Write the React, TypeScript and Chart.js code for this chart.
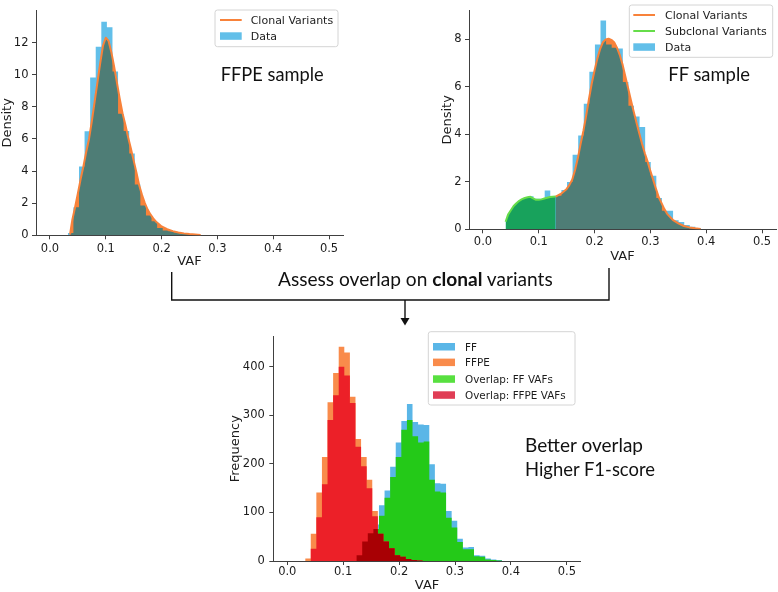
import React, { useEffect, useRef } from 'react';
import { Chart, registerables } from 'chart.js';

Chart.register(...registerables);

// ---------- shared axis data ----------
const X_TICKS = [0, 0.1, 0.2, 0.3, 0.4, 0.5];
const FFPE_Y_TICKS = [0, 2, 4, 6, 8, 10, 12];
const FF_Y_TICKS = [0, 2, 4, 6, 8];
const FREQ_Y_TICKS = [0, 100, 200, 300, 400];
const BIN_WIDTH = 0.01;

// ---------- FFPE sample (density) ----------
const FFPE_BIN_START = 0.032;
const FFPE_DENSITY = [0.15, 1.74, 4.28, 6.47, 9.82, 11.73, 13.3, 12.95, 10.2, 7.57, 6.5, 5.09, 3.17, 1.85, 1.24, 0.87, 0.45, 0.3, 0.25, 0.18, 0.1];
const FFPE_FIT_X = [0.036, 0.038, 0.04, 0.045, 0.05, 0.055, 0.06, 0.065, 0.07, 0.075, 0.08, 0.085, 0.09, 0.095, 0.1, 0.105, 0.11, 0.115, 0.12, 0.125, 0.13, 0.135, 0.14, 0.145, 0.15, 0.155, 0.16, 0.165, 0.17, 0.175, 0.18, 0.185, 0.19, 0.195, 0.2, 0.21, 0.22, 0.23, 0.24, 0.25, 0.26, 0.27];
const FFPE_FIT_Y = [0.05, 0.5, 0.95, 1.75, 2.6, 3.5, 4.3, 5.2, 6.0, 7.1, 8.3, 9.5, 10.7, 11.8, 12.3, 12.1, 11.4, 10.5, 9.5, 8.5, 7.6, 6.9, 6.1, 5.4, 4.65, 3.9, 3.1, 2.5, 2.0, 1.6, 1.3, 1.05, 0.85, 0.7, 0.55, 0.38, 0.26, 0.18, 0.12, 0.08, 0.05, 0.02];

// ---------- FF sample (density) ----------
const FF_BIN_START = 0.0406;
const FF_DENSITY = [0.34, 0.89, 1.12, 1.29, 1.39, 1.29, 1.29, 1.63, 1.39, 1.41, 1.66, 1.99, 3.14, 3.95, 5.29, 6.64, 7.78, 8.79, 7.78, 7.65, 7.62, 6.2, 5.2, 4.75, 4.31, 2.83, 2.26, 1.32, 0.78, 0.78, 0.38, 0.31, 0.18, 0.11, 0.05];
const FF_CLONAL_FIRST_BIN = 9;
const FF_SUB_X = [0.0406, 0.045, 0.05, 0.055, 0.06, 0.065, 0.07, 0.075, 0.08, 0.085, 0.09, 0.095, 0.1, 0.105, 0.11, 0.115, 0.12, 0.125, 0.1303];
const FF_SUB_Y = [0.32, 0.62, 0.8, 0.98, 1.1, 1.2, 1.27, 1.32, 1.35, 1.37, 1.3, 1.24, 1.24, 1.26, 1.3, 1.33, 1.36, 1.37, 1.38];
const FF_CLONAL_X = [0.1303, 0.14, 0.15, 0.155, 0.16, 0.165, 0.17, 0.175, 0.18, 0.185, 0.19, 0.195, 0.2, 0.205, 0.21, 0.215, 0.22, 0.225, 0.23, 0.235, 0.24, 0.245, 0.25, 0.255, 0.26, 0.265, 0.27, 0.275, 0.28, 0.285, 0.29, 0.295, 0.3, 0.305, 0.31, 0.315, 0.32, 0.325, 0.33, 0.34, 0.35, 0.36, 0.37, 0.38, 0.39];
const FF_CLONAL_Y = [1.38, 1.5, 1.7, 1.87, 2.1, 2.5, 3.0, 3.6, 4.15, 4.8, 5.5, 6.15, 6.7, 7.2, 7.6, 7.88, 8.0, 8.03, 7.98, 7.88, 7.65, 7.35, 6.95, 6.45, 5.95, 5.45, 4.96, 4.5, 4.05, 3.6, 3.2, 2.85, 2.45, 2.08, 1.7, 1.35, 1.1, 0.85, 0.65, 0.4, 0.25, 0.14, 0.08, 0.04, 0.01];

// ---------- Overlap (frequency) ----------
const FF_COUNT_START = 0.044;
const FF_COUNTS = [12, 33, 41, 47, 51, 47, 47, 60, 51, 52, 61, 75, 115, 145, 194, 244, 288, 323, 286, 281, 280, 199, 160, 159, 103, 83, 46, 28, 29, 12, 11, 5, 3, 2];
const FFPE_COUNT_START = 0.032;
const FFPE_COUNTS = [5, 56, 141, 214, 327, 387, 441, 429, 338, 251, 214, 167, 103, 61, 41, 29, 12, 10, 8, 6, 3, 1];
const OVERLAP_FF_START = 0.124;
const OVERLAP_FF_COUNTS = [12, 40, 57, 66, 93, 130, 173, 214, 270, 290, 257, 244, 246, 167, 143, 141, 89, 69, 39, 24, 24, 10, 9, 3, 2, 1];
const OVERLAP_FFPE_START = 0.032;
const OVERLAP_FFPE_COUNTS = [0, 25, 90, 158, 290, 341, 400, 382, 325, 235, 195, 150, 92, 56, 40, 26, 12, 9, 4, 2, 1, 0];

// ---------- styling ----------
const FONT = "'DejaVu Sans', 'Liberation Sans', sans-serif";
const ANNOT_FONT = "Lato, 'Open Sans', sans-serif";
const INK = '#1c1c1c';
const AXIS = '#404040';
const DATA_BLUE = '#62bfe9';
const FIT_DARK = '#4e7d76';
const FIT_ORANGE = '#f8823a';
const SUB_FILL = '#18a25c';
const SUB_LINE = '#66dd4a';
const HIST_BLUE = '#5ab6e7';
const HIST_ORANGE = '#f98b4b';
const HIST_GREEN = '#24c918';
const HIST_RED = '#ec2028';
const HIST_DARK_RED = '#a80004';

type Pt = { x: number; y: number };

function steps(start: number, values: number[]): Pt[] {
  const pts = values.map((v, i) => ({ x: start + i * BIN_WIDTH, y: v }));
  pts.push({ x: start + values.length * BIN_WIDTH, y: values[values.length - 1] });
  return pts;
}
function curve(xs: number[], ys: number[]): Pt[] {
  return xs.map((x, i) => ({ x, y: ys[i] }));
}

interface AxisSpec {
  yTicks: number[];
  yMax: number;
  yTitle: string;
  yWidth: number;
  xHeight: number;
  xTickPad: number;
  xTitlePad: number;
  xTitleLH: number;
  yTickPad: number;
}

function makeScales(s: AxisSpec): any {
  const tickFont = { family: FONT, size: 11.5 };
  const grid = { display: true, drawOnChartArea: false, drawTicks: true, tickLength: 4, color: AXIS, lineWidth: 1 };
  const border = { display: true, color: AXIS, width: 1 };
  return {
    x: {
      type: 'linear', min: -0.025, max: 0.525,
      afterBuildTicks: (a: any) => { a.ticks = X_TICKS.map((v) => ({ value: v })); },
      afterFit: (a: any) => { a.height = s.xHeight; },
      ticks: { font: tickFont, color: INK, padding: s.xTickPad, maxRotation: 0, autoSkip: false, callback: (v: any) => Number(v).toFixed(1) },
      grid, border,
      title: { display: true, text: 'VAF', color: INK, font: { family: FONT, size: 13, lineHeight: s.xTitleLH }, padding: { top: 0, bottom: s.xTitlePad } },
    },
    y: {
      type: 'linear', min: 0, max: s.yMax,
      afterBuildTicks: (a: any) => { a.ticks = s.yTicks.map((v) => ({ value: v })); },
      afterFit: (a: any) => { a.width = s.yWidth; },
      ticks: { font: tickFont, color: INK, padding: s.yTickPad, autoSkip: false, callback: (v: any) => String(v) },
      grid, border,
      title: { display: true, text: s.yTitle, color: INK, font: { family: FONT, size: 13, lineHeight: 1.2 }, padding: 0 },
    },
  };
}

function baseOptions(scales: any, padding: any): any {
  return {
    responsive: false,
    animation: false,
    events: [],
    layout: { padding },
    plugins: { legend: { display: false }, tooltip: { enabled: false } },
    scales,
    elements: { point: { radius: 0 }, line: { tension: 0 } },
  };
}

const areaSet = (data: Pt[], color: string, stepped = false): any => ({
  data, backgroundColor: color, borderColor: 'rgba(0,0,0,0)', borderWidth: 0, fill: 'origin', stepped, pointRadius: 0,
});
const lineSet = (data: Pt[], color: string, width = 2): any => ({
  data, borderColor: color, backgroundColor: color, borderWidth: width, fill: false, pointRadius: 0, borderJoinStyle: 'round',
});
const sliverSet = (data: Pt[], target: number): any => ({
  data, stepped: true, borderColor: 'rgba(0,0,0,0)', borderWidth: 0, pointRadius: 0,
  backgroundColor: FIT_ORANGE, fill: { target, above: 'rgba(0,0,0,0)', below: FIT_ORANGE },
});

function ffpeConfig(): any {
  const fit = curve(FFPE_FIT_X, FFPE_FIT_Y);
  return {
    type: 'line',
    data: {
      datasets: [
        lineSet(fit, FIT_ORANGE, 2),
        sliverSet(steps(FFPE_BIN_START, FFPE_DENSITY), 2),
        areaSet(fit, FIT_DARK),
        areaSet(steps(FFPE_BIN_START, FFPE_DENSITY), DATA_BLUE, true),
      ],
    },
    options: baseOptions(
      makeScales({ yTicks: FFPE_Y_TICKS, yMax: 14.0, yTitle: 'Density', yWidth: 36, xHeight: 39.7, xTickPad: 2.5, xTitlePad: 6, xTitleLH: 1.2, yTickPad: 3.5 }),
      { left: 0, top: 5, right: 7, bottom: 0 },
    ),
  };
}

function ffConfig(): any {
  const clonal = curve(FF_CLONAL_X, FF_CLONAL_Y);
  const sub = curve(FF_SUB_X, FF_SUB_Y);
  const clonalStart = FF_BIN_START + FF_CLONAL_FIRST_BIN * BIN_WIDTH;
  return {
    type: 'line',
    data: {
      datasets: [
        lineSet(clonal, FIT_ORANGE, 2),
        lineSet(sub, SUB_LINE, 2),
        sliverSet(steps(clonalStart, FF_DENSITY.slice(FF_CLONAL_FIRST_BIN)), 3),
        areaSet(clonal, FIT_DARK),
        areaSet(sub, SUB_FILL),
        areaSet(steps(FF_BIN_START, FF_DENSITY), DATA_BLUE, true),
      ],
    },
    options: baseOptions(
      makeScales({ yTicks: FF_Y_TICKS, yMax: 9.22, yTitle: 'Density', yWidth: 29, xHeight: 40.7, xTickPad: 1.5, xTitlePad: 6, xTitleLH: 1.2, yTickPad: 3.5 }),
      { left: 0, top: 1, right: 2, bottom: 0 },
    ),
  };
}

// Paints the region where the two "overlap" histograms (datasets 0 and 1) intersect.
const intersectionPlugin = {
  id: 'histIntersection',
  afterDatasetsDraw(chart: any) {
    const { ctx, chartArea, scales } = chart;
    const base = scales.y.getPixelForValue(0);
    ctx.save();
    ctx.beginPath();
    ctx.rect(chartArea.left, chartArea.top, chartArea.right - chartArea.left, chartArea.bottom - chartArea.top);
    ctx.clip();
    for (const idx of [0, 1]) {
      const el = chart.getDatasetMeta(idx).dataset;
      const pts = el.points;
      if (!pts || !pts.length) continue;
      ctx.beginPath();
      el.path(ctx);
      ctx.lineTo(pts[pts.length - 1].x, base);
      ctx.lineTo(pts[0].x, base);
      ctx.closePath();
      ctx.clip();
    }
    ctx.fillStyle = HIST_DARK_RED;
    ctx.fillRect(chartArea.left, chartArea.top, chartArea.right - chartArea.left, chartArea.bottom - chartArea.top);
    ctx.restore();
  },
};

function overlapConfig(): any {
  return {
    type: 'line',
    data: {
      datasets: [
        areaSet(steps(OVERLAP_FFPE_START, OVERLAP_FFPE_COUNTS), HIST_RED, true),
        areaSet(steps(OVERLAP_FF_START, OVERLAP_FF_COUNTS), HIST_GREEN, true),
        areaSet(steps(FFPE_COUNT_START, FFPE_COUNTS), HIST_ORANGE, true),
        areaSet(steps(FF_COUNT_START, FF_COUNTS), HIST_BLUE, true),
      ],
    },
    options: baseOptions(
      makeScales({ yTicks: FREQ_Y_TICKS, yMax: 462.3, yTitle: 'Frequency', yWidth: 45.3, xHeight: 31, xTickPad: 0.5, xTitlePad: 0, xTitleLH: 1.0, yTickPad: 4.5 }),
      { left: 0, top: 6.7, right: 7.2, bottom: 0 },
    ),
    plugins: [intersectionPlugin],
  };
}

const legendText = { fontFamily: FONT, fill: INK, dominantBaseline: 'central' as const };

export default function App() {
  const aRef = useRef<HTMLCanvasElement>(null);
  const bRef = useRef<HTMLCanvasElement>(null);
  const cRef = useRef<HTMLCanvasElement>(null);

  useEffect(() => {
    const charts = [
      new Chart(aRef.current as HTMLCanvasElement, ffpeConfig()),
      new Chart(bRef.current as HTMLCanvasElement, ffConfig()),
      new Chart(cRef.current as HTMLCanvasElement, overlapConfig()),
    ];
    return () => charts.forEach((c) => c.destroy());
  }, []);

  return (
    <div style={{ position: 'fixed', left: 0, top: 0, width: 778, height: 592, background: '#fff', overflow: 'hidden' }}>
      <canvas ref={aRef} width={350} height={275} style={{ position: 'absolute', left: 0, top: 0, width: 350, height: 275 }} />
      <canvas ref={bRef} width={338} height={270} style={{ position: 'absolute', left: 440, top: 0, width: 338, height: 270 }} />
      <canvas ref={cRef} width={360} height={267} style={{ position: 'absolute', left: 228, top: 325, width: 360, height: 267 }} />
      <svg width={778} height={592} style={{ position: 'absolute', left: 0, top: 0, pointerEvents: 'none' }}>
        {/* FFPE legend */}
        <rect x={215} y={10} width={123} height={36.7} rx={2.5} fill="#fff" fillOpacity={0.8} stroke="#d4d4d4" />
        <line x1={220} x2={241.7} y1={20} y2={20} stroke={FIT_ORANGE} strokeWidth={2} />
        <text x={250.7} y={20} fontSize={11} {...legendText}>Clonal Variants</text>
        <rect x={220} y={32.3} width={21.7} height={7.5} fill={DATA_BLUE} />
        <text x={250.7} y={36} fontSize={11} {...legendText}>Data</text>

        {/* FF legend */}
        <rect x={629.3} y={5} width={143.4} height={52.3} rx={2.5} fill="#fff" fillOpacity={0.8} stroke="#d4d4d4" />
        <line x1={633.3} x2={655} y1={15} y2={15} stroke={FIT_ORANGE} strokeWidth={2} />
        <text x={665} y={15} fontSize={11} {...legendText}>Clonal Variants</text>
        <line x1={633.3} x2={655} y1={31} y2={31} stroke={SUB_LINE} strokeWidth={2} />
        <text x={665} y={31} fontSize={11} {...legendText}>Subclonal Variants</text>
        <rect x={633.3} y={43.3} width={21.7} height={7.5} fill={DATA_BLUE} />
        <text x={665} y={47} fontSize={11} {...legendText}>Data</text>

        {/* Overlap legend */}
        <rect x={428.3} y={331.7} width={146.7} height={73.3} rx={2.5} fill="#fff" fillOpacity={0.8} stroke="#d4d4d4" />
        <rect x={433} y={343} width={22} height={7.5} fill={HIST_BLUE} />
        <text x={465} y={346.7} fontSize={10.4} {...legendText}>FF</text>
        <rect x={433} y={358.6} width={22} height={7.5} fill={HIST_ORANGE} />
        <text x={465} y={362.3} fontSize={10.4} {...legendText}>FFPE</text>
        <rect x={433} y={375.3} width={22} height={7.5} fill="#58e040" />
        <text x={465} y={379} fontSize={10.4} {...legendText}>Overlap: FF VAFs</text>
        <rect x={433} y={391.3} width={22} height={7.5} fill="#e03d55" />
        <text x={465} y={395} fontSize={10.4} {...legendText}>Overlap: FFPE VAFs</text>

        {/* annotations */}
        <text x={220.7} y={80.8} fontSize={18.5} fontFamily={ANNOT_FONT} fill="#111" textLength={103} lengthAdjust="spacingAndGlyphs">FFPE sample</text>
        <text x={668.3} y={80.8} fontSize={18.5} fontFamily={ANNOT_FONT} fill="#111" textLength={81.7} lengthAdjust="spacingAndGlyphs">FF sample</text>
        <text x={278} y={286} fontSize={18.5} fontFamily={ANNOT_FONT} fill="#111" textLength={274.7} lengthAdjust="spacingAndGlyphs">
          Assess overlap on <tspan fontWeight="bold">clonal</tspan> variants
        </text>
        <text x={525} y={451.5} fontSize={18.5} fontFamily={ANNOT_FONT} fill="#111" textLength={118} lengthAdjust="spacingAndGlyphs">Better overlap</text>
        <text x={525} y={475.5} fontSize={18.5} fontFamily={ANNOT_FONT} fill="#111" textLength={130} lengthAdjust="spacingAndGlyphs">Higher F1-score</text>

        {/* bracket + arrow */}
        <g stroke="#111" strokeWidth={1.4} fill="none">
          <polyline points="171.7,272 171.7,300 609,300 609,268" />
          <line x1={405} y1={300} x2={405} y2={319} />
        </g>
        <polygon points="400.5,318 409.5,318 405,325.5" fill="#111" />
      </svg>
    </div>
  );
}
